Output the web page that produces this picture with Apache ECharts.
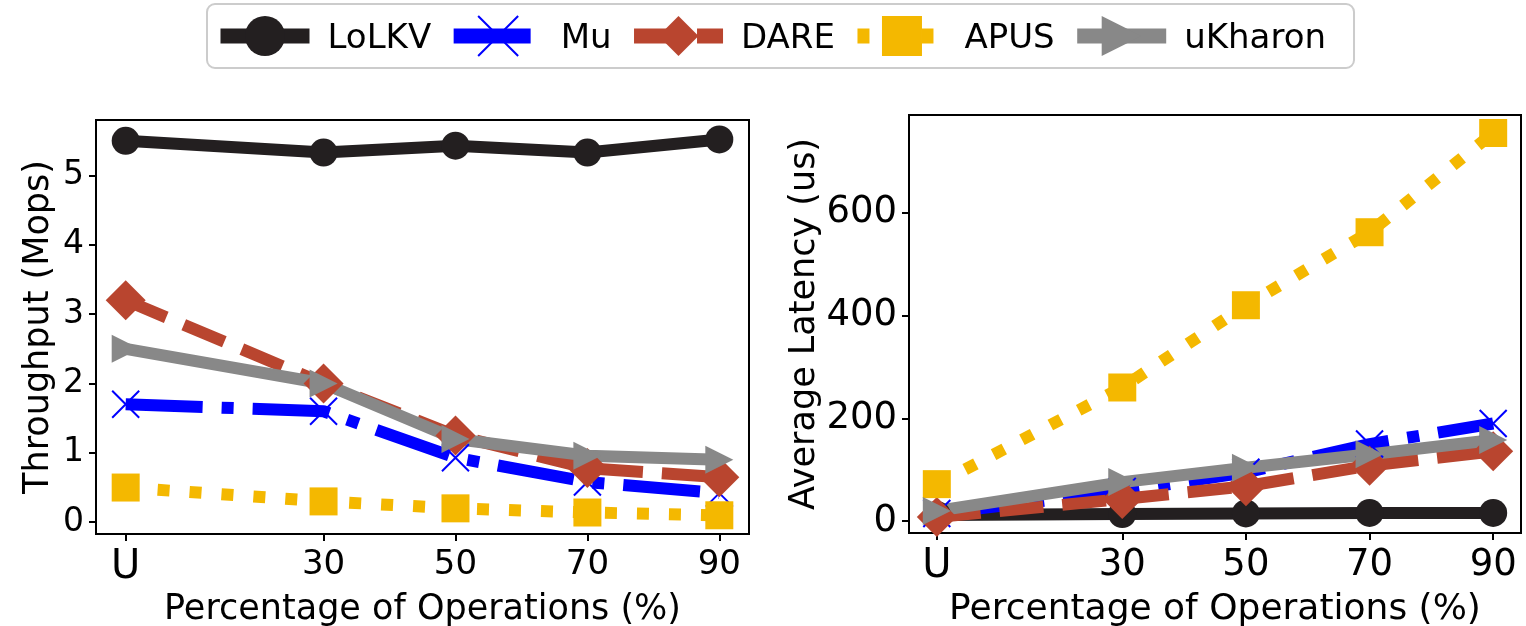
<!DOCTYPE html>
<html><head><meta charset="utf-8">
<script src="https://cdn.jsdelivr.net/npm/echarts@6/dist/echarts.min.js"></script>
<style>html,body{margin:0;padding:0;background:#fff}#c{width:1526px;height:626px}</style>
</head><body><div id="c"></div>
<script>
// ---- data ----
const xValues = [0, 30, 50, 70, 90];
const xTickLabels = ['U', '30', '50', '70', '90'];
const seriesNames = ['LoLKV', 'Mu', 'DARE', 'APUS', 'uKharon'];
const thrLoLKV   = [5.50, 5.33, 5.43, 5.33, 5.52];
const thrMu      = [1.70, 1.60, 0.93, 0.58, 0.42];
const thrDARE    = [3.20, 2.00, 1.25, 0.78, 0.65];
const thrAPUS    = [0.50, 0.30, 0.20, 0.14, 0.10];
const thrUKharon = [2.50, 2.00, 1.20, 0.96, 0.90];
const latLoLKV   = [12, 14, 15, 16, 16];
const latMu      = [15, 58, 95, 150, 190];
const latDARE    = [8, 43, 68, 108, 136];
const latAPUS    = [72, 260, 420, 562, 755];
const latUKharon = [20, 76, 104, 130, 158];
const thrTicks = [0, 1, 2, 3, 4, 5];
const latTicks = [0, 200, 400, 600];
const thrAxisName = 'Throughput (Mops)';
const latAxisName = 'Average Latency (us)';
const xAxisName = 'Percentage of Operations (%)';

// ---- styles ----
const FONT = 'DejaVu Sans';
const LW = 12;
const styles = {
  LoLKV:   { color: '#231f20', type: 'solid', symbol: 'circle', size: 28 },
  Mu:      { color: '#0000ff', type: [77, 19, 12, 19], symbol: 'path://M0,0L10,10M10,0L0,10', size: 27, border: 2 },
  DARE:    { color: '#b9452f', type: [44, 19], symbol: 'diamond', size: 40 },
  APUS:    { color: '#f4b800', type: [12, 20], symbol: 'rect', size: 28 },
  uKharon: { color: '#888888', type: 'solid', symbol: 'path://M0,0L10,5L0,10Z', size: 28 }
};
const thrData = { LoLKV: thrLoLKV, Mu: thrMu, DARE: thrDARE, APUS: thrAPUS, uKharon: thrUKharon };
const latData = { LoLKV: latLoLKV, Mu: latMu, DARE: latDARE, APUS: latAPUS, uKharon: latUKharon };

function mkSeries(name, vals, idx) {
  const s = styles[name];
  return {
    name: name, type: 'line', xAxisIndex: idx, yAxisIndex: idx,
    data: xValues.map((x, i) => [x, vals[i]]),
    symbol: s.symbol, symbolSize: s.size, showSymbol: true,
    lineStyle: { color: s.color, width: LW, type: s.type, cap: 'butt' },
    itemStyle: { color: s.color, borderColor: s.color, borderWidth: s.border || 0 },
    emphasis: { disabled: true }, animation: false
  };
}

const xLabelFmt = v => {
  const i = xValues.indexOf(v);
  if (i < 0) return '';
  const t = xTickLabels[i];
  return /^\d+$/.test(t) ? t : '{big|' + t + '}';
};

function mkX(idx, tickFs, nameFs) {
  return {
    type: 'value', gridIndex: idx, min: -4.5, max: 94.5,
    name: xAxisName, nameLocation: 'middle', nameGap: 57,
    nameTextStyle: { fontFamily: FONT, fontSize: nameFs, color: '#000' },
    axisLine: { show: false, onZero: false },
    axisTick: { show: true, inside: false, length: 7, lineStyle: { color: '#000', width: 2 }, customValues: xValues },
    axisLabel: {
      show: true, fontFamily: FONT, fontSize: tickFs, color: '#000', margin: 14,
      customValues: xValues, formatter: xLabelFmt,
      rich: { big: { fontFamily: FONT, fontSize: 40, color: '#000' } }
    },
    splitLine: { show: false }
  };
}
function mkY(idx, min, max, ticks, name, gap, tickFs) {
  return {
    type: 'value', gridIndex: idx, min: min, max: max,
    name: name, nameLocation: 'middle', nameGap: gap,
    nameTextStyle: { fontFamily: FONT, fontSize: 35, color: '#000' },
    axisLine: { show: false, onZero: false },
    axisTick: { show: true, inside: false, length: 7, lineStyle: { color: '#000', width: 2 }, customValues: ticks },
    axisLabel: { show: true, fontFamily: FONT, fontSize: tickFs, color: '#000', margin: 12, customValues: ticks },
    splitLine: { show: false }
  };
}

const chart = echarts.init(document.getElementById('c'), null, { renderer: 'canvas' });
chart.setOption({
  animation: false,
  backgroundColor: '#fff',
  legend: {
    data: seriesNames,
    left: 207, top: 4,
    itemWidth: 89, itemHeight: 50, itemGap: 15,
    padding: [11, 28, 11, 6],
    backgroundColor: '#fff', borderColor: '#cccccc', borderWidth: 2, borderRadius: 8,
    formatter: n => '{t|' + n + '}',
    textStyle: {
      fontFamily: FONT, fontSize: 34, color: '#000', padding: [0, 0, 0, 13],
      rich: { t: { fontFamily: FONT, fontSize: 34, color: '#000', padding: [6, 0, 0, 0] } }
    },
    lineStyle: { width: 15 },
    selectedMode: false
  },
  grid: [
    { left: 96, top: 120, width: 653, height: 414, containLabel: false, outerBoundsMode: 'none', show: true, borderColor: '#000', borderWidth: 2, backgroundColor: 'transparent' },
    { left: 909, top: 115, width: 612, height: 418, containLabel: false, outerBoundsMode: 'none', show: true, borderColor: '#000', borderWidth: 2, backgroundColor: 'transparent' }
  ],
  xAxis: [mkX(0, 34, 35), mkX(1, 37, 36)],
  yAxis: [
    mkY(0, -0.17, 5.8, thrTicks, thrAxisName, 40, 33),
    mkY(1, -23, 790, latTicks, latAxisName, 86, 37)
  ],
  series: [
    ...seriesNames.map(n => mkSeries(n, thrData[n], 0)),
    ...seriesNames.map(n => mkSeries(n, latData[n], 1))
  ]
});
</script>
</body></html>
